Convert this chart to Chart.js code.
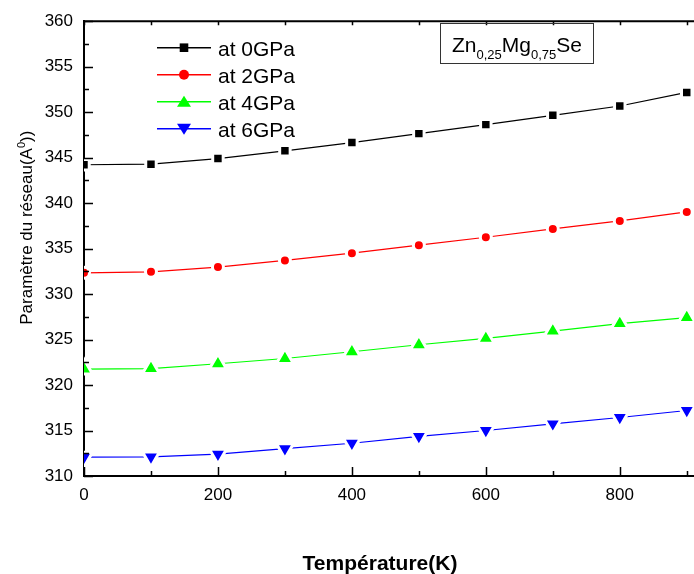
<!DOCTYPE html>
<html>
<head>
<meta charset="utf-8">
<script src="https://cdn.jsdelivr.net/npm/chart.js@4.4.1/dist/chart.umd.min.js"></script>
<style>
  html, body { margin: 0; padding: 0; background: #fff; overflow: hidden; }
  #wrap { width: 694px; height: 574px; overflow: hidden; }
  canvas { display: block; }
</style>
</head>
<body>
<div id="wrap"><canvas id="chart" width="784" height="574"></canvas></div>
<script>
// temperature grid (K) and lattice parameter at each pressure
const temperatures = [0, 100, 200, 300, 400, 500, 600, 700, 800, 900];
const seriesLabels = ['at 0GPa', 'at 2GPa', 'at 4GPa', 'at 6GPa'];
const at0GPa = [344.22, 344.28, 344.90, 345.75, 346.66, 347.64, 348.63, 349.65, 350.68, 352.17];
const at2GPa = [332.34, 332.45, 332.97, 333.70, 334.50, 335.38, 336.25, 337.16, 338.04, 339.03];
const at4GPa = [321.76, 321.80, 322.34, 322.92, 323.66, 324.43, 325.12, 325.93, 326.76, 327.42];
const at6GPa = [312.08, 312.10, 312.40, 313.00, 313.60, 314.35, 315.00, 315.74, 316.43, 317.20];
const xRange = [0, 1000];
const yRange = [310, 360];

const FONT = "Arial, 'Liberation Sans', Helvetica, sans-serif";

function serie(label, values, color, style, radius, rotation) {
  return {
    label: label,
    data: temperatures.map((t, i) => ({ x: t, y: values[i] })),
    borderColor: color,
    backgroundColor: color,
    borderWidth: 1.2,
    tension: 0,
    clip: 0,
    pointStyle: style,
    pointRadius: radius,
    pointHoverRadius: radius,
    pointRotation: rotation || 0,
    pointBackgroundColor: color,
    pointBorderColor: '#fff',
    pointBorderWidth: 3
  };
}

// small marker shapes for the legend (no white halo there)
function legendMarker(ctx, style, rot, x, y, color) {
  ctx.fillStyle = color;
  ctx.beginPath();
  if (style === 'rect') {
    ctx.rect(x - 4.3, y - 4.3, 8.6, 8.6);
  } else if (style === 'circle') {
    ctx.arc(x, y, 5, 0, Math.PI * 2);
  } else {
    const d = rot ? -1 : 1;
    ctx.moveTo(x, y - d * 6);
    ctx.lineTo(x + 7, y + d * 5);
    ctx.lineTo(x - 7, y + d * 5);
    ctx.closePath();
  }
  ctx.fill();
}

const insideLegend = {
  id: 'insideLegend',
  afterDraw(chart) {
    const { ctx, chartArea: a } = chart;
    chart.data.datasets.forEach((ds, i) => {
      const y = a.top + 26.5 + i * 27;
      const x0 = a.left + 73, x1 = a.left + 127;
      ctx.save();
      ctx.strokeStyle = ds.borderColor;
      ctx.lineWidth = 1.5;
      ctx.beginPath();
      ctx.moveTo(x0, y);
      ctx.lineTo(x1, y);
      ctx.stroke();
      legendMarker(ctx, ds.pointStyle, ds.pointRotation, (x0 + x1) / 2, y, ds.borderColor);
      ctx.fillStyle = '#000';
      ctx.font = '21px ' + FONT;
      ctx.textBaseline = 'alphabetic';
      ctx.fillText(ds.label, a.left + 134, y + 8.5);
      ctx.restore();
    });
  }
};

// top frame line plus inward tick marks
const frameTicks = {
  id: 'frameTicks',
  afterDatasetsDraw(chart) {
    const { ctx, chartArea: a, scales } = chart;
    ctx.save();
    ctx.strokeStyle = '#000';
    ctx.lineWidth = 2;
    ctx.beginPath();
    ctx.moveTo(a.left - 1, a.top);
    ctx.lineTo(a.right, a.top);
    ctx.stroke();
    ctx.lineWidth = 1.5;
    ctx.beginPath();
    for (let v = yRange[0]; v <= yRange[1]; v += 2.5) {
      const py = Math.round(scales.y.getPixelForValue(v)) + 0.5;
      ctx.moveTo(a.left, py);
      ctx.lineTo(a.left + (v % 5 === 0 ? 9 : 5), py);
    }
    for (let t = xRange[0]; t <= xRange[1]; t += 100) {
      const px = Math.round(scales.x.getPixelForValue(t)) + 0.5;
      ctx.moveTo(px, a.bottom);
      ctx.lineTo(px, a.bottom - (t % 200 === 0 ? 9 : 5));
      ctx.moveTo(px, a.top);
      ctx.lineTo(px, a.top + 4);
    }
    ctx.stroke();
    ctx.restore();
  }
};

// axis titles and the compound label box
const annotations = {
  id: 'annotations',
  afterDraw(chart) {
    const { ctx, chartArea: a } = chart;
    ctx.save();
    ctx.fillStyle = '#000';

    ctx.font = 'bold 21px ' + FONT;
    ctx.textAlign = 'center';
    ctx.textBaseline = 'alphabetic';
    ctx.fillText('Température(K)', a.left + 296, a.bottom + 94);

    // y title with superscript
    const parts = [['Paramètre du réseau(A', 17, 0], ['0', 11, -7], ['))', 17, 0]];
    let total = 0;
    parts.forEach(p => { ctx.font = p[1] + 'px ' + FONT; total += ctx.measureText(p[0]).width; });
    ctx.translate(32, a.top + 206.5);
    ctx.rotate(-Math.PI / 2);
    ctx.textAlign = 'left';
    let cx = -total / 2;
    parts.forEach(p => {
      ctx.font = p[1] + 'px ' + FONT;
      ctx.fillText(p[0], cx, p[2]);
      cx += ctx.measureText(p[0]).width;
    });
    ctx.setTransform(1, 0, 0, 1, 0, 0);

    // Zn0,25Mg0,75Se box
    ctx.strokeStyle = '#333';
    ctx.lineWidth = 1;
    ctx.strokeRect(440.5, 23.5, 153, 40);
    const formula = [['Zn', 21, 52], ['0,25', 13, 59], ['Mg', 21, 52], ['0,75', 13, 59], ['Se', 21, 52]];
    let fx = 452;
    formula.forEach(f => {
      ctx.font = f[1] + 'px ' + FONT;
      ctx.fillText(f[0], fx, f[2]);
      fx += ctx.measureText(f[0]).width;
    });
    ctx.restore();
  }
};

new Chart(document.getElementById('chart').getContext('2d'), {
  type: 'line',
  data: {
    datasets: [
      serie(seriesLabels[0], at0GPa, '#000000', 'rect', 7.4, 0),
      serie(seriesLabels[1], at2GPa, '#ff0000', 'circle', 5.5, 0),
      serie(seriesLabels[2], at4GPa, '#00ff00', 'triangle', 9.8, 0),
      serie(seriesLabels[3], at6GPa, '#0000ff', 'triangle', 9.8, 180)
    ]
  },
  options: {
    responsive: false,
    animation: false,
    events: [],
    layout: { padding: { top: 19.5, right: 20, left: 0, bottom: 0 } },
    plugins: { legend: { display: false }, tooltip: { enabled: false } },
    scales: {
      x: {
        type: 'linear',
        min: xRange[0],
        max: xRange[1],
        grid: { display: false, drawTicks: false },
        border: { display: true, color: '#000', width: 2 },
        ticks: {
          stepSize: 200, autoSkip: false, maxRotation: 0,
          color: '#000', padding: 9, font: { family: FONT, size: 17 }
        },
        afterFit: s => { s.height = 98; }
      },
      y: {
        min: yRange[0],
        max: yRange[1],
        grid: { display: false, drawTicks: false },
        border: { display: true, color: '#000', width: 2 },
        ticks: {
          stepSize: 5, autoSkip: false,
          color: '#000', padding: 11, font: { family: FONT, size: 17 }
        },
        afterFit: s => { s.width = 84; }
      }
    }
  },
  plugins: [frameTicks, insideLegend, annotations]
});
</script>
</body>
</html>
